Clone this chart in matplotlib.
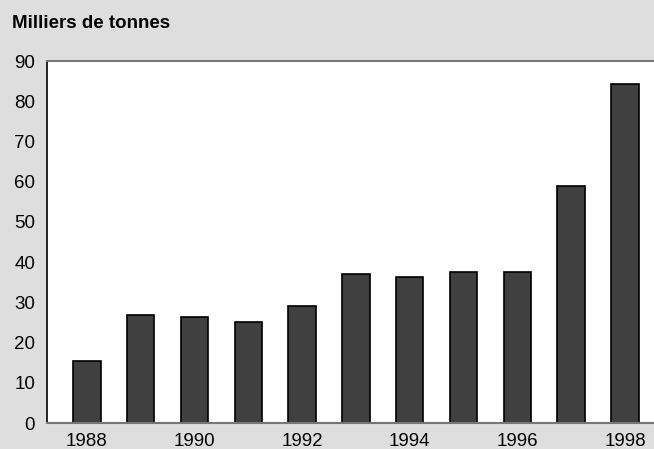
import matplotlib
matplotlib.use('Agg')
import matplotlib.pyplot as plt

years = [1988, 1989, 1990, 1991, 1992, 1993, 1994, 1995, 1996, 1997, 1998]
values = [15.4, 26.8, 26.3, 25.0, 29.0, 37.0, 36.2, 37.5, 37.5, 59.0, 84.3]
tick_years = [1988, 1990, 1992, 1994, 1996, 1998]
y_ticks = [0, 10, 20, 30, 40, 50, 60, 70, 80, 90]

plt.rcParams['font.family'] = ['Liberation Sans', 'DejaVu Sans']

fig = plt.figure(figsize=(6.54, 4.49), dpi=100, facecolor='#dedede')
ax = fig.add_axes([47 / 654, 26 / 449, 607 / 654, 362 / 449])
ax.set_facecolor('white')

ax.bar(years, values, width=0.51, color='#404040', edgecolor='black', linewidth=1.2)

ax.set_xlim(1988 - 0.74, 1998 + 0.54)
ax.set_ylim(0, 90)
ax.set_yticks(y_ticks)
ax.set_xticks(tick_years)
ax.tick_params(length=0, labelsize=13.5)
ax.tick_params(axis='y', pad=8.5)
ax.tick_params(axis='x', pad=7)

ax.spines['left'].set_color('black')
ax.spines['left'].set_linewidth(1.2)
ax.spines['top'].set_color('#777777')
ax.spines['top'].set_linewidth(1.5)
ax.spines['bottom'].set_color('#777777')
ax.spines['bottom'].set_linewidth(1.5)
ax.spines['right'].set_visible(False)

fig.text(12 / 654, 1 - 23 / 449, 'Milliers de tonnes', fontsize=13.5, fontweight='bold', va='center', ha='left')

fig.savefig('out.png', dpi=100, facecolor=fig.get_facecolor())
